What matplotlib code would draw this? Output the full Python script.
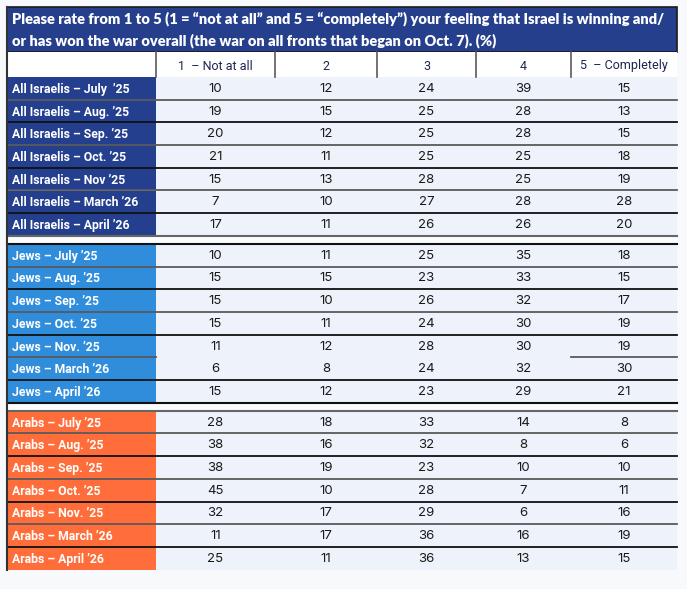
import matplotlib.pyplot as plt
from matplotlib.patches import Rectangle

title = ("Please rate from 1 to 5 (1 = \u201cnot at all\u201d and 5 = \u201ccompletely\u201d) your feeling that Israel is winning and/\n"
         "or has won the war overall (the war on all fronts that began on Oct. 7). (%)")
columns = ['1  \u2013 Not at all', '2', '3', '4', '5  \u2013 Completely']

israelis_labels = ['All Israelis \u2013 July  \u201925', 'All Israelis \u2013 Aug. \u201925', 'All Israelis \u2013 Sep. \u201925',
                   'All Israelis \u2013 Oct. \u201925', 'All Israelis \u2013 Nov \u201925', 'All Israelis \u2013 March \u201926',
                   'All Israelis \u2013 April \u201926']
israelis_values = [[10, 12, 24, 39, 15],
                   [19, 15, 25, 28, 13],
                   [20, 12, 25, 28, 15],
                   [21, 11, 25, 25, 18],
                   [15, 13, 28, 25, 19],
                   [7, 10, 27, 28, 28],
                   [17, 11, 26, 26, 20]]

jews_labels = ['Jews \u2013 July \u201925', 'Jews \u2013 Aug. \u201925', 'Jews \u2013 Sep. \u201925', 'Jews \u2013 Oct. \u201925',
               'Jews \u2013 Nov. \u201925', 'Jews \u2013 March \u201926', 'Jews \u2013 April \u201926']
jews_values = [[10, 11, 25, 35, 18],
               [15, 15, 23, 33, 15],
               [15, 10, 26, 32, 17],
               [15, 11, 24, 30, 19],
               [11, 12, 28, 30, 19],
               [6, 8, 24, 32, 30],
               [15, 12, 23, 29, 21]]

arabs_labels = ['Arabs \u2013 July \u201925', 'Arabs \u2013 Aug. \u201925', 'Arabs \u2013 Sep. \u201925', 'Arabs \u2013 Oct. \u201925',
                'Arabs \u2013 Nov. \u201925', 'Arabs \u2013 March \u201926', 'Arabs \u2013 April \u201926']
arabs_values = [[28, 18, 33, 14, 8],
                [38, 16, 32, 8, 6],
                [38, 19, 23, 10, 10],
                [45, 10, 28, 7, 11],
                [32, 17, 29, 6, 16],
                [11, 17, 36, 16, 19],
                [25, 11, 36, 13, 15]]

groups = [(israelis_labels, israelis_values, '#253f8f'),
          (jews_labels, jews_values, '#2f8ddb'),
          (arabs_labels, arabs_values, '#ff6e3a')]

W, H = 687, 589
fig = plt.figure(figsize=(W / 100, H / 100), dpi=100)
fig.patch.set_facecolor('#f8f9fc')
ax = fig.add_axes([0, 0, 1, 1])
ax.set_xlim(0, W)
ax.set_ylim(H, 0)
ax.axis('off')

label_font = ['Roboto', 'DejaVu Sans']
num_font = ['Inter', 'DejaVu Sans']

x0, x_lab, x1 = 7, 156, 677
col_edges = [156, 275, 377, 476, 571, 677]
row_h = 22.7
gap = 8

# title band
ax.add_patch(Rectangle((x0, 7), x1 - x0, 45, facecolor='#263f8c', edgecolor='#1a1a1a', lw=1.2))
ax.text(12, 30, title, color='white', fontsize=10.5, fontweight='heavy', family=['Lato', 'DejaVu Sans'],
        va='center', ha='left', linespacing=1.6)

# header row
ax.add_patch(Rectangle((x0, 52), x1 - x0, 25, facecolor='#ffffff', edgecolor='none'))
for xe in col_edges[:-1]:
    ax.plot([xe, xe], [52, 77], color='#5a5a5a', lw=1.2)
for i, c in enumerate(columns):
    ax.text((col_edges[i] + col_edges[i + 1]) / 2, 66, c, ha='center', va='center', fontsize=9,
            family=label_font, color='#1c2750')

y = 77
for g, (labels, values, color) in enumerate(groups):
    if g > 0:
        ax.add_patch(Rectangle((x0, y), x1 - x0, gap, facecolor='#fbfcfe', edgecolor='none'))
        ax.plot([x0, x1], [y, y], color='#666666' if g == 1 else '#111111', lw=1.5)
        y += gap
        ax.plot([x0, x1], [y, y], color='#111111' if g == 1 else '#666666', lw=1.5)
    for r, (lab, vals) in enumerate(zip(labels, values)):
        ax.add_patch(Rectangle((x0, y), x_lab - x0, row_h, facecolor=color, edgecolor='none'))
        ax.add_patch(Rectangle((x_lab, y), x1 - x_lab, row_h, facecolor='#eef2fa', edgecolor='none'))
        ax.text(x0 + 5, y + row_h / 2 + 1, lab, color='white', fontsize=8.8, fontweight='bold',
                family=label_font, va='center', ha='left')
        for i, v in enumerate(vals):
            ax.text((col_edges[i] + col_edges[i + 1]) / 2, y + row_h / 2 + 0.5, str(v), ha='center',
                    va='center', fontsize=9.5, family=num_font, color='#1a1a1a')
        y += row_h
        if r < len(labels) - 1:
            lc = '#111111' if r % 2 else '#5a5a5a'
            if g == 1 and r == 4:
                ax.plot([x0, x_lab], [y, y], color=lc, lw=1.3)
                ax.plot([col_edges[4], x1], [y, y], color=lc, lw=1.3)
            else:
                ax.plot([x0, x1], [y, y], color=lc, lw=1.3)

# left border
ax.plot([x0, x0], [7, y], color='#333333', lw=1.5)

fig.savefig('out.png', dpi=100, facecolor=fig.get_facecolor())
